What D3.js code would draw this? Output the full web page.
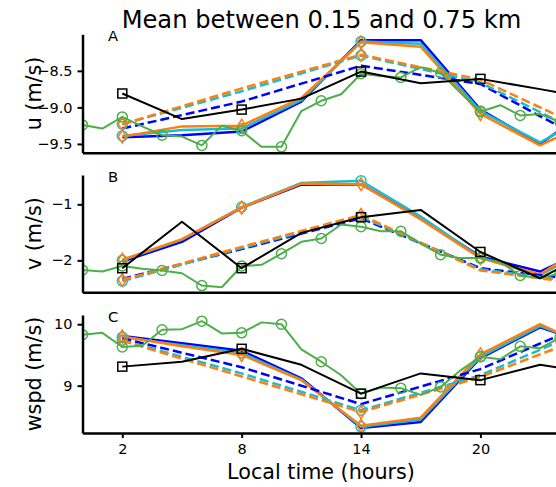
<!DOCTYPE html>
<html><head><meta charset="utf-8">
<script src="https://cdn.jsdelivr.net/npm/d3@7"></script>
<style>body{margin:0;background:#fff}svg{display:block}text{font-family:"DejaVu Sans",sans-serif}</style>
</head><body><svg id="c" width="556" height="487"></svg>
<script>
// ---------- data ----------
const title = "Mean between 0.15 and 0.75 km";
const xLabel = "Local time (hours)";
const xTicks = [2, 8, 14, 20];
const panelLetters = ["A", "B", "C"];
const yLabels = ["u (m/s)", "v (m/s)", "wspd (m/s)"];
const yTicksA = [-9.5, -9.0, -8.5];
const yTicksB = [-2, -1];
const yTicksC = [9, 10];

const hoursHourly = [0,1,2,3,4,5,6,7,8,9,10,11,12,13,14,15,16,17,18,19,20,21,22,23,24];
const hours3 = [2,5,8,11,14,17,20,23,26];
const hours6 = [2,8,14,20,26];

// green (hourly, circles every 2 h)
const greenA = [-9.24,-9.29,-9.13,-9.26,-9.38,-9.40,-9.52,-9.25,-9.32,-9.54,-9.54,-9.05,-8.91,-8.82,-8.54,-8.57,-8.59,-8.45,-8.53,-8.80,-9.06,-8.97,-9.11,-9.09,-9.20];
const greenB = [-2.17,-2.20,-2.10,-2.15,-2.18,-2.23,-2.45,-2.48,-2.10,-2.08,-1.88,-1.67,-1.61,-1.36,-1.40,-1.48,-1.48,-1.70,-1.90,-1.96,-1.96,-2.03,-2.27,-2.32,-2.23];
const greenC = [9.83,9.86,9.63,9.65,9.91,9.92,10.05,9.85,9.86,10.03,10.00,9.59,9.39,9.17,8.87,8.97,8.96,8.85,8.98,9.25,9.47,9.43,9.64,9.61,9.78];

// black (3-hourly, squares every 6 h)
const blackA = [-8.81,-9.16,-9.03,-8.88,-8.51,-8.67,-8.61,-8.75,-8.90];
const blackB = [-2.14,-1.31,-2.14,-1.51,-1.23,-1.10,-1.85,-2.32,-1.76];
const blackC = [9.31,9.39,9.60,9.34,8.87,9.20,9.09,9.34,9.19];

// solid coloured (3-hourly)
const blueSolidA = [-9.41,-9.38,-9.33,-8.92,-8.08,-8.08,-9.03,-9.50,-8.93];
const blueSolidB = [-2.02,-1.67,-1.06,-0.65,-0.64,-1.25,-1.93,-2.20,-1.70];
const blueSolidC = [9.81,9.69,9.57,9.12,8.31,8.41,9.45,9.95,9.62];
const cyanSolidA = [-9.39,-9.31,-9.29,-8.90,-8.10,-8.13,-9.05,-9.48,-9.02];
const cyanSolidB = [-2.00,-1.63,-1.05,-0.62,-0.58,-1.22,-1.95,-2.27,-1.65];
const cyanSolidC = [9.79,9.66,9.53,9.10,8.33,8.45,9.47,9.97,9.60];
const orangeSolidA = [-9.40,-9.26,-9.25,-8.87,-8.11,-8.17,-9.09,-9.52,-9.14];
const orangeSolidB = [-1.99,-1.62,-1.06,-0.63,-0.64,-1.27,-1.96,-2.25,-1.57];
const orangeSolidC = [9.80,9.64,9.50,9.09,8.35,8.48,9.51,10.00,9.55];

// dashed coloured (6-hourly)
const blueDashA = [-9.29,-8.92,-8.43,-8.68,-9.56];
const blueDashB = [-2.33,-1.80,-1.25,-2.14,-2.39];
const blueDashC = [9.77,9.30,8.70,9.27,10.10];
const cyanDashA = [-9.23,-8.78,-8.29,-8.66,-9.47];
const cyanDashB = [-2.37,-1.78,-1.22,-2.16,-2.43];
const cyanDashC = [9.74,9.20,8.60,9.17,10.00];
const orangeDashA = [-9.23,-8.74,-8.28,-8.62,-9.38];
const orangeDashB = [-2.35,-1.76,-1.19,-2.18,-2.46];
const orangeDashC = [9.73,9.15,8.57,9.14,9.88];

// ---------- layout ----------
const COL = {blue:"#0000ff", cyan:"#17becf", orange:"#ff7f0e", green:"#4daf4a", black:"#000000"};
const X0 = 82.5, X1 = 560;
const panels = [
  {top:34.3, bottom:152.7, domain:[-9.62,-8.0], ticks:yTicksA, fmt:d3.format(".1f"),
   green:greenA, black:blackA, bs:blueSolidA, cs:cyanSolidA, os:orangeSolidA, bd:blueDashA, cd:cyanDashA, od:orangeDashA},
  {top:175, bottom:292.3, domain:[-2.57,-0.477], ticks:yTicksB, fmt:d3.format("d"),
   green:greenB, black:blackB, bs:blueSolidB, cs:cyanSolidB, os:orangeSolidB, bd:blueDashB, cd:cyanDashB, od:orangeDashB},
  {top:315, bottom:433, domain:[8.23,10.15], ticks:yTicksC, fmt:d3.format("d"),
   green:greenC, black:blackC, bs:blueSolidC, cs:cyanSolidC, os:orangeSolidC, bd:blueDashC, cd:cyanDashC, od:orangeDashC}
];

const svg = d3.select("#c");
const x = d3.scaleLinear().domain([0, 24]).range([X0, X1]);

svg.append("text").attr("x", 321.5).attr("y", 28).attr("text-anchor","middle")
  .attr("font-size", 24.2).attr("fill","#000").text(title);

panels.forEach((p, i) => {
  const y = d3.scaleLinear().domain(p.domain).range([p.bottom, p.top]);
  const g = svg.append("g");
  const clipId = "clip" + i;
  svg.append("clipPath").attr("id", clipId).append("rect")
    .attr("x", X0).attr("y", p.top).attr("width", X1 - X0).attr("height", p.bottom - p.top);
  const plot = g.append("g").attr("clip-path", `url(#${clipId})`);

  const line = d3.line().x(d => x(d[0])).y(d => y(d[1]));
  const pairs = (hs, vs) => hs.map((h, k) => [h, vs[k]]);

  function drawLine(hs, vs, color, width, dash) {
    plot.append("path").datum(pairs(hs, vs)).attr("d", line)
      .attr("fill","none").attr("stroke", color).attr("stroke-width", width)
      .attr("stroke-linejoin","round")
      .attr("stroke-dasharray", dash ? "9,4" : null);
  }
  function circles(pts, color) {
    plot.selectAll(null).data(pts).enter().append("circle")
      .attr("cx", d => x(d[0])).attr("cy", d => y(d[1])).attr("r", 5)
      .attr("fill","none").attr("stroke", color).attr("stroke-width", 1.5);
  }
  function diamonds(pts, color) {
    plot.selectAll(null).data(pts).enter().append("path")
      .attr("d", d => { const cx = x(d[0]), cy = y(d[1]);
        return `M${cx},${cy-6.5}L${cx+4},${cy}L${cx},${cy+6.5}L${cx-4},${cy}Z`; })
      .attr("fill","none").attr("stroke", color).attr("stroke-width", 1.5);
  }
  function squares(pts, color) {
    plot.selectAll(null).data(pts).enter().append("rect")
      .attr("x", d => x(d[0]) - 4.5).attr("y", d => y(d[1]) - 4.5)
      .attr("width", 9).attr("height", 9)
      .attr("fill","none").attr("stroke", color).attr("stroke-width", 1.5);
  }
  const even = arr => arr.filter((d, k) => k % 2 === 0);

  // solid
  drawLine(hours3, p.bs, COL.blue, 2.5, false);
  drawLine(hours3, p.cs, COL.cyan, 2.5, false);
  circles(even(pairs(hours3, p.cs)), COL.cyan);
  drawLine(hours3, p.os, COL.orange, 2.5, false);
  diamonds(even(pairs(hours3, p.os)), COL.orange);
  // dashed (markers every 12 h)
  drawLine(hours6, p.bd, COL.blue, 2.5, true);
  drawLine(hours6, p.cd, COL.cyan, 2.5, true);
  circles(even(pairs(hours6, p.cd)), COL.cyan);
  drawLine(hours6, p.od, COL.orange, 2.5, true);
  diamonds(even(pairs(hours6, p.od)), COL.orange);
  // green
  drawLine(hoursHourly, p.green, COL.green, 2, false);
  circles(even(pairs(hoursHourly, p.green)), COL.green);
  // black
  drawLine(hours3, p.black, COL.black, 2, false);
  squares(even(pairs(hours3, p.black)), COL.black);

  // axes
  const ya = d3.axisLeft(y).tickValues(p.ticks).tickFormat(p.fmt).tickSize(5).tickPadding(5).tickSizeOuter(0);
  const yg = g.append("g").attr("transform", `translate(${X0},0)`).call(ya);
  const xa = d3.axisBottom(x).tickValues(i === 2 ? xTicks : []).tickSize(5).tickPadding(6).tickSizeOuter(0);
  const xg = g.append("g").attr("transform", `translate(0,${p.bottom})`).call(xa);
  [yg, xg].forEach(a => {
    a.select(".domain").attr("stroke-width", 2.5).attr("stroke","#000");
    a.selectAll(".tick line").attr("stroke-width", 2).attr("stroke","#000");
    a.selectAll(".tick text").attr("font-size", 14.5).attr("fill","#000").attr("font-family","DejaVu Sans");
  });

  g.append("text").attr("x", 108).attr("y", p.top + 6.8).attr("font-size", 14.8)
    .attr("fill","#000").text(panelLetters[i]);
  g.append("text").attr("transform", `translate(41,${(p.top + p.bottom) / 2}) rotate(-90)`)
    .attr("text-anchor","middle").attr("font-size", 20.7).attr("fill","#000").text(yLabels[i]);
});

svg.append("text").attr("x", 321).attr("y", 479).attr("text-anchor","middle")
  .attr("font-size", 20.7).attr("fill","#000").text(xLabel);
</script></body></html>
